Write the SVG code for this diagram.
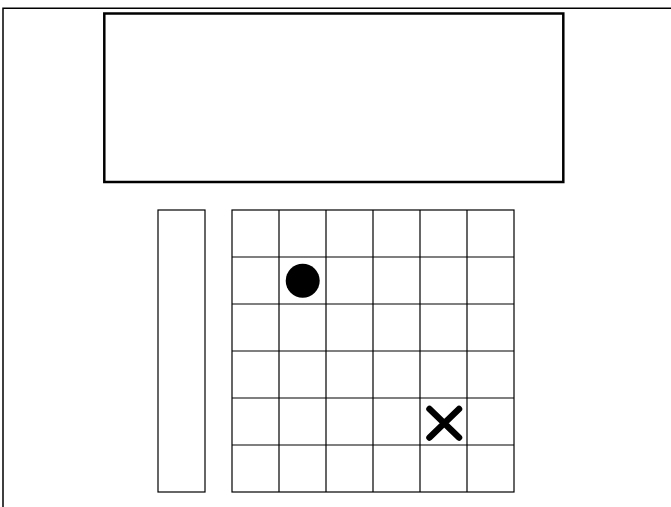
<svg xmlns="http://www.w3.org/2000/svg" width="671" height="507" viewBox="0 0 671 507">
<style>
.frame{fill:none;stroke:#000;stroke-width:1.5}
.box{fill:#fff;stroke:#000;stroke-width:2.5}
.thin{fill:#fff;stroke:#000;stroke-width:1.2}
.grid{fill:none;stroke:#000;stroke-width:1.2}
</style>
<rect width="671" height="507" fill="#fff"/>
<g id="frame"><path class="frame" d="M3,507 V8.3 H671"/></g>
<g id="display"><rect class="box" x="104.3" y="13.5" width="459" height="168.5"/></g>
<g id="sidebar"><rect class="thin" x="158" y="210" width="47" height="282"/></g>
<g id="board">
<rect class="grid" x="232" y="210" width="282" height="282"/>
<path class="grid" d="M279,210V492M326,210V492M373,210V492M420,210V492M467,210V492M232,257H514M232,304H514M232,351H514M232,398H514M232,445H514"/>
</g>
<g id="dot"><circle cx="302.7" cy="280.7" r="17" fill="#000"/></g>
<g id="cross"><path d="M429.5,409 L459,437.5 M459,409 L429.5,437.5" stroke="#000" stroke-width="6.5" stroke-linecap="round" fill="none"/></g>
<g id="connectors"/>
</svg>
